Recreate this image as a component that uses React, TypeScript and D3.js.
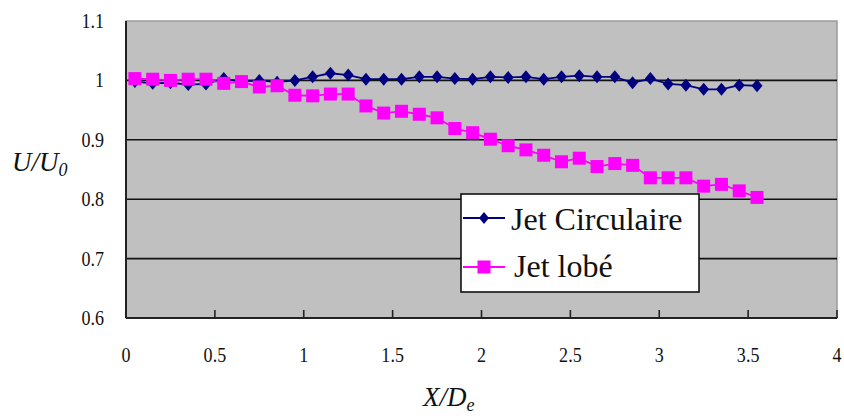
import React from "react";
import * as d3 from "d3";

const xValues = [0.05,0.15,0.25,0.35,0.45,0.55,0.65,0.75,0.85,0.95,1.05,1.15,1.25,1.35,1.45,1.55,1.65,1.75,1.85,1.95,2.05,2.15,2.25,2.35,2.45,2.55,2.65,2.75,2.85,2.95,3.05,3.15,3.25,3.35,3.45,3.55];
const circulaire = [0.998,0.995,0.996,0.993,0.994,1.003,0.998,1.0,0.997,1.0,1.006,1.012,1.009,1.002,1.002,1.002,1.006,1.006,1.003,1.002,1.006,1.005,1.006,1.002,1.006,1.008,1.006,1.006,0.996,1.003,0.994,0.992,0.985,0.985,0.992,0.991];
const lobe = [1.003,1.002,1.0,1.002,1.002,0.995,0.998,0.989,0.991,0.975,0.974,0.977,0.977,0.957,0.945,0.948,0.943,0.937,0.919,0.912,0.901,0.89,0.883,0.874,0.863,0.869,0.855,0.86,0.857,0.836,0.836,0.836,0.822,0.825,0.814,0.803];
const xTicks = [0,0.5,1,1.5,2,2.5,3,3.5,4];
const yTicks = [0.6,0.7,0.8,0.9,1.0,1.1];
const yGrid = [0.7,0.8,0.9,1.0];
const seriesNames = ["Jet Circulaire", "Jet lobé"];

const W = 844, H = 419;
const left = 126, right = 837, top = 21, bottom = 318;

const x = d3.scaleLinear().domain([0, 4]).range([left, right]);
const y = d3.scaleLinear().domain([0.6, 1.1]).range([bottom, top]);

const NAVY = "#000080";
const MAG = "#FF00FF";
const FONT = "Liberation Serif, Tinos, DejaVu Serif, Times New Roman, serif";

const diamond = (cx: number, cy: number, w = 11, h = 13) =>
  `M${cx},${cy - h / 2}L${cx + w / 2},${cy}L${cx},${cy + h / 2}L${cx - w / 2},${cy}Z`;

const fmt = (v: number) => (Math.abs(v - 1) < 1e-9 ? "1" : Math.abs(v) < 1e-9 ? "0" : String(+v.toFixed(1)));

export default function App() {
  const lineGen = d3
    .line<[number, number]>()
    .x((d) => x(d[0]))
    .y((d) => y(d[1]));
  const circPts: [number, number][] = xValues.map((v, i) => [v, circulaire[i]]);
  const lobePts: [number, number][] = xValues.map((v, i) => [v, lobe[i]]);

  const legX = 461, legY = 194, legW = 238, legH = 98;

  return (
    <svg
      width={W}
      height={H}
      style={{ position: "absolute", left: 0, top: 0, background: "#fff", fontFamily: FONT }}
    >
      <rect x={left} y={top} width={right - left} height={bottom - top} fill="#C0C0C0" stroke="#9a9a9a" strokeWidth={1.5} />
      {yGrid.map((v) => (
        <line key={v} x1={left} x2={right} y1={y(v)} y2={y(v)} stroke="#111" strokeWidth={1.6} />
      ))}
      {/* axes */}
      <line x1={left} x2={left} y1={top} y2={bottom} stroke="#222" strokeWidth={2} />
      <line x1={left} x2={right} y1={bottom} y2={bottom} stroke="#222" strokeWidth={2} />
      {xTicks.map((v) => (
        <line key={v} x1={x(v)} x2={x(v)} y1={bottom} y2={bottom - 8} stroke="#222" strokeWidth={1.6} />
      ))}

      {/* series */}
      <path d={lineGen(circPts) || ""} fill="none" stroke={NAVY} strokeWidth={1.8} />
      {circPts.map((p, i) => (
        <path key={"c" + i} d={diamond(x(p[0]), y(p[1]))} fill={NAVY} />
      ))}
      <path d={lineGen(lobePts) || ""} fill="none" stroke={MAG} strokeWidth={1.8} />
      {lobePts.map((p, i) => (
        <rect key={"l" + i} x={x(p[0]) - 6.5} y={y(p[1]) - 6.5} width={13} height={13} fill={MAG} />
      ))}

      {/* tick labels */}
      {xTicks.map((v) => (
        <text
          key={"xt" + v}
          transform={`translate(${x(v)},362) scale(0.82,1)`}
          textAnchor="middle"
          fontFamily={FONT}
          fontSize={22}
          fill="#111"
        >
          {fmt(v)}
        </text>
      ))}
      {yTicks.map((v) => (
        <text
          key={"yt" + v}
          transform={`translate(104,${y(v) + 7}) scale(0.82,1)`}
          textAnchor="end"
          fontFamily={FONT}
          fontSize={22}
          fill="#111"
        >
          {fmt(v)}
        </text>
      ))}

      {/* axis titles */}
      <text x={12} y={171} fontFamily={FONT} fontStyle="italic" fontSize={27} fill="#111">
        U/U<tspan fontSize={18} dy={5}>0</tspan>
      </text>
      <text x={423} y={406} fontFamily={FONT} fontStyle="italic" fontSize={27} fill="#111">
        X/D<tspan fontSize={18} dy={5}>e</tspan>
      </text>

      {/* legend */}
      <rect x={legX} y={legY} width={legW} height={legH} fill="#fff" stroke="#111" strokeWidth={1.6} />
      <line x1={463} x2={505} y1={218} y2={218} stroke={NAVY} strokeWidth={1.8} />
      <path d={diamond(484, 218, 10, 12)} fill={NAVY} />
      <text x={511} y={230} fontFamily={FONT} fontSize={32} fill="#111">
        {seriesNames[0]}
      </text>
      <line x1={463} x2={505} y1={267} y2={267} stroke={MAG} strokeWidth={1.8} />
      <rect x={477.5} y={260.5} width={13} height={13} fill={MAG} />
      <text x={514} y={277} fontFamily={FONT} fontSize={32} fill="#111">
        {seriesNames[1]}
      </text>
    </svg>
  );
}
